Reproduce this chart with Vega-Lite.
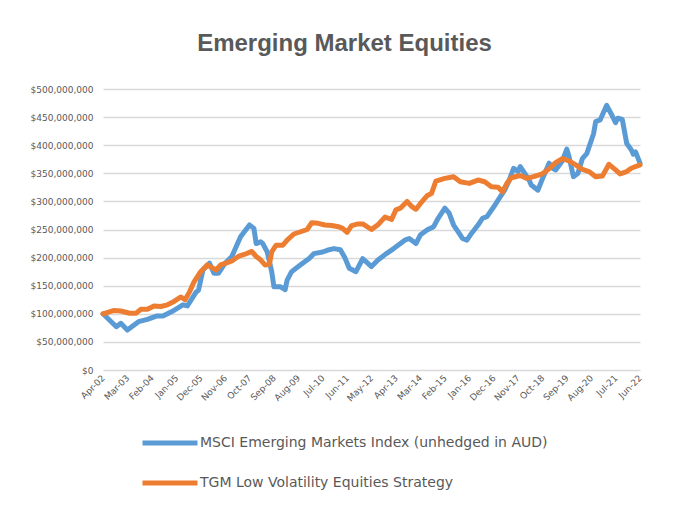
{
  "$schema": "https://vega.github.io/schema/vega-lite/v6.json",
  "autosize": {"type": "none"},
  "padding": {"left": 103, "top": 89, "right": 40, "bottom": 137},
  "width": 537,
  "height": 281,
  "background": "white",
  "title": {
    "text": "Emerging Market Equities",
    "frame": "group",
    "anchor": "middle",
    "dx": -27,
    "offset": 10,
    "baseline": "alphabetic",
    "font": "Liberation Sans",
    "fontSize": 24,
    "fontWeight": "bold",
    "color": "#595959"
  },
  "data": {
    "values": [
      {"series": "MSCI", "date": "2002-04-01", "value": 100},
      {"series": "MSCI", "date": "2002-10-01", "value": 77},
      {"series": "MSCI", "date": "2002-12-01", "value": 83},
      {"series": "MSCI", "date": "2003-03-01", "value": 71},
      {"series": "MSCI", "date": "2003-08-01", "value": 86},
      {"series": "MSCI", "date": "2003-12-01", "value": 90},
      {"series": "MSCI", "date": "2004-04-01", "value": 96},
      {"series": "MSCI", "date": "2004-07-01", "value": 96},
      {"series": "MSCI", "date": "2004-11-01", "value": 104},
      {"series": "MSCI", "date": "2005-04-01", "value": 116},
      {"series": "MSCI", "date": "2005-06-01", "value": 114},
      {"series": "MSCI", "date": "2005-10-01", "value": 139},
      {"series": "MSCI", "date": "2005-11-01", "value": 142},
      {"series": "MSCI", "date": "2006-01-01", "value": 178},
      {"series": "MSCI", "date": "2006-04-01", "value": 190},
      {"series": "MSCI", "date": "2006-06-01", "value": 172},
      {"series": "MSCI", "date": "2006-08-01", "value": 172},
      {"series": "MSCI", "date": "2006-11-01", "value": 190},
      {"series": "MSCI", "date": "2007-02-01", "value": 202},
      {"series": "MSCI", "date": "2007-06-01", "value": 237},
      {"series": "MSCI", "date": "2007-10-01", "value": 258},
      {"series": "MSCI", "date": "2007-12-01", "value": 252},
      {"series": "MSCI", "date": "2008-01-01", "value": 225},
      {"series": "MSCI", "date": "2008-03-01", "value": 228},
      {"series": "MSCI", "date": "2008-04-01", "value": 225},
      {"series": "MSCI", "date": "2008-06-01", "value": 210},
      {"series": "MSCI", "date": "2008-08-01", "value": 175},
      {"series": "MSCI", "date": "2008-09-01", "value": 148},
      {"series": "MSCI", "date": "2008-12-01", "value": 148},
      {"series": "MSCI", "date": "2009-02-01", "value": 143},
      {"series": "MSCI", "date": "2009-03-01", "value": 160},
      {"series": "MSCI", "date": "2009-05-01", "value": 175},
      {"series": "MSCI", "date": "2009-08-01", "value": 184},
      {"series": "MSCI", "date": "2009-11-01", "value": 193},
      {"series": "MSCI", "date": "2010-01-01", "value": 199},
      {"series": "MSCI", "date": "2010-03-01", "value": 207},
      {"series": "MSCI", "date": "2010-07-01", "value": 210},
      {"series": "MSCI", "date": "2010-09-01", "value": 213},
      {"series": "MSCI", "date": "2010-12-01", "value": 216},
      {"series": "MSCI", "date": "2011-03-01", "value": 214},
      {"series": "MSCI", "date": "2011-05-01", "value": 200},
      {"series": "MSCI", "date": "2011-07-01", "value": 181},
      {"series": "MSCI", "date": "2011-10-01", "value": 175},
      {"series": "MSCI", "date": "2012-01-01", "value": 198},
      {"series": "MSCI", "date": "2012-05-01", "value": 184},
      {"series": "MSCI", "date": "2012-08-01", "value": 196},
      {"series": "MSCI", "date": "2012-12-01", "value": 208},
      {"series": "MSCI", "date": "2013-03-01", "value": 216},
      {"series": "MSCI", "date": "2013-08-01", "value": 231},
      {"series": "MSCI", "date": "2013-10-01", "value": 234},
      {"series": "MSCI", "date": "2014-01-01", "value": 225},
      {"series": "MSCI", "date": "2014-03-01", "value": 240},
      {"series": "MSCI", "date": "2014-06-01", "value": 249},
      {"series": "MSCI", "date": "2014-09-01", "value": 255},
      {"series": "MSCI", "date": "2014-11-01", "value": 270},
      {"series": "MSCI", "date": "2015-02-01", "value": 288},
      {"series": "MSCI", "date": "2015-04-01", "value": 279},
      {"series": "MSCI", "date": "2015-06-01", "value": 258},
      {"series": "MSCI", "date": "2015-08-01", "value": 246},
      {"series": "MSCI", "date": "2015-10-01", "value": 234},
      {"series": "MSCI", "date": "2015-12-01", "value": 231},
      {"series": "MSCI", "date": "2016-02-01", "value": 243},
      {"series": "MSCI", "date": "2016-05-01", "value": 258},
      {"series": "MSCI", "date": "2016-07-01", "value": 270},
      {"series": "MSCI", "date": "2016-09-01", "value": 273},
      {"series": "MSCI", "date": "2016-12-01", "value": 290},
      {"series": "MSCI", "date": "2017-03-01", "value": 308},
      {"series": "MSCI", "date": "2017-05-01", "value": 320},
      {"series": "MSCI", "date": "2017-07-01", "value": 337},
      {"series": "MSCI", "date": "2017-09-01", "value": 359},
      {"series": "MSCI", "date": "2017-11-01", "value": 353},
      {"series": "MSCI", "date": "2017-12-01", "value": 362},
      {"series": "MSCI", "date": "2018-02-01", "value": 350},
      {"series": "MSCI", "date": "2018-04-01", "value": 338},
      {"series": "MSCI", "date": "2018-05-01", "value": 329},
      {"series": "MSCI", "date": "2018-08-01", "value": 320},
      {"series": "MSCI", "date": "2018-10-01", "value": 340},
      {"series": "MSCI", "date": "2019-01-01", "value": 368},
      {"series": "MSCI", "date": "2019-03-01", "value": 358},
      {"series": "MSCI", "date": "2019-04-01", "value": 356},
      {"series": "MSCI", "date": "2019-07-01", "value": 372},
      {"series": "MSCI", "date": "2019-09-01", "value": 393},
      {"series": "MSCI", "date": "2019-10-01", "value": 380},
      {"series": "MSCI", "date": "2019-12-01", "value": 344},
      {"series": "MSCI", "date": "2020-02-01", "value": 350},
      {"series": "MSCI", "date": "2020-04-01", "value": 376},
      {"series": "MSCI", "date": "2020-06-01", "value": 385},
      {"series": "MSCI", "date": "2020-09-01", "value": 420},
      {"series": "MSCI", "date": "2020-10-01", "value": 442},
      {"series": "MSCI", "date": "2020-12-01", "value": 445},
      {"series": "MSCI", "date": "2021-03-01", "value": 471},
      {"series": "MSCI", "date": "2021-05-01", "value": 456},
      {"series": "MSCI", "date": "2021-07-01", "value": 440},
      {"series": "MSCI", "date": "2021-08-01", "value": 448},
      {"series": "MSCI", "date": "2021-10-01", "value": 446},
      {"series": "MSCI", "date": "2021-12-01", "value": 403},
      {"series": "MSCI", "date": "2022-02-01", "value": 392},
      {"series": "MSCI", "date": "2022-03-01", "value": 384},
      {"series": "MSCI", "date": "2022-04-01", "value": 388},
      {"series": "MSCI", "date": "2022-06-01", "value": 368},
      {"series": "TGM", "date": "2002-04-01", "value": 100},
      {"series": "TGM", "date": "2002-09-01", "value": 106},
      {"series": "TGM", "date": "2002-12-01", "value": 105},
      {"series": "TGM", "date": "2003-04-01", "value": 101},
      {"series": "TGM", "date": "2003-07-01", "value": 101},
      {"series": "TGM", "date": "2003-09-01", "value": 108},
      {"series": "TGM", "date": "2003-12-01", "value": 108},
      {"series": "TGM", "date": "2004-03-01", "value": 114},
      {"series": "TGM", "date": "2004-06-01", "value": 113},
      {"series": "TGM", "date": "2004-09-01", "value": 116},
      {"series": "TGM", "date": "2004-12-01", "value": 122},
      {"series": "TGM", "date": "2005-03-01", "value": 130},
      {"series": "TGM", "date": "2005-05-01", "value": 125},
      {"series": "TGM", "date": "2005-07-01", "value": 139},
      {"series": "TGM", "date": "2005-09-01", "value": 157},
      {"series": "TGM", "date": "2005-12-01", "value": 175},
      {"series": "TGM", "date": "2006-03-01", "value": 187},
      {"series": "TGM", "date": "2006-06-01", "value": 180},
      {"series": "TGM", "date": "2006-07-01", "value": 178},
      {"series": "TGM", "date": "2006-09-01", "value": 187},
      {"series": "TGM", "date": "2006-12-01", "value": 191},
      {"series": "TGM", "date": "2007-02-01", "value": 194},
      {"series": "TGM", "date": "2007-05-01", "value": 202},
      {"series": "TGM", "date": "2007-08-01", "value": 206},
      {"series": "TGM", "date": "2007-11-01", "value": 211},
      {"series": "TGM", "date": "2008-01-01", "value": 202},
      {"series": "TGM", "date": "2008-03-01", "value": 196},
      {"series": "TGM", "date": "2008-05-01", "value": 187},
      {"series": "TGM", "date": "2008-07-01", "value": 188},
      {"series": "TGM", "date": "2008-08-01", "value": 210},
      {"series": "TGM", "date": "2008-10-01", "value": 222},
      {"series": "TGM", "date": "2009-01-01", "value": 222},
      {"series": "TGM", "date": "2009-03-01", "value": 231},
      {"series": "TGM", "date": "2009-06-01", "value": 242},
      {"series": "TGM", "date": "2009-09-01", "value": 246},
      {"series": "TGM", "date": "2009-12-01", "value": 250},
      {"series": "TGM", "date": "2010-02-01", "value": 262},
      {"series": "TGM", "date": "2010-05-01", "value": 261},
      {"series": "TGM", "date": "2010-08-01", "value": 258},
      {"series": "TGM", "date": "2010-11-01", "value": 257},
      {"series": "TGM", "date": "2011-02-01", "value": 255},
      {"series": "TGM", "date": "2011-04-01", "value": 252},
      {"series": "TGM", "date": "2011-06-01", "value": 245},
      {"series": "TGM", "date": "2011-08-01", "value": 257},
      {"series": "TGM", "date": "2011-11-01", "value": 260},
      {"series": "TGM", "date": "2012-01-01", "value": 260},
      {"series": "TGM", "date": "2012-05-01", "value": 250},
      {"series": "TGM", "date": "2012-08-01", "value": 259},
      {"series": "TGM", "date": "2012-11-01", "value": 272},
      {"series": "TGM", "date": "2013-02-01", "value": 268},
      {"series": "TGM", "date": "2013-04-01", "value": 285},
      {"series": "TGM", "date": "2013-06-01", "value": 288},
      {"series": "TGM", "date": "2013-09-01", "value": 300},
      {"series": "TGM", "date": "2013-11-01", "value": 291},
      {"series": "TGM", "date": "2014-01-01", "value": 286},
      {"series": "TGM", "date": "2014-03-01", "value": 296},
      {"series": "TGM", "date": "2014-06-01", "value": 310},
      {"series": "TGM", "date": "2014-08-01", "value": 314},
      {"series": "TGM", "date": "2014-10-01", "value": 336},
      {"series": "TGM", "date": "2015-02-01", "value": 341},
      {"series": "TGM", "date": "2015-06-01", "value": 344},
      {"series": "TGM", "date": "2015-09-01", "value": 335},
      {"series": "TGM", "date": "2016-01-01", "value": 332},
      {"series": "TGM", "date": "2016-05-01", "value": 338},
      {"series": "TGM", "date": "2016-08-01", "value": 335},
      {"series": "TGM", "date": "2016-11-01", "value": 326},
      {"series": "TGM", "date": "2017-02-01", "value": 325},
      {"series": "TGM", "date": "2017-04-01", "value": 317},
      {"series": "TGM", "date": "2017-06-01", "value": 332},
      {"series": "TGM", "date": "2017-08-01", "value": 342},
      {"series": "TGM", "date": "2017-12-01", "value": 346},
      {"series": "TGM", "date": "2018-03-01", "value": 341},
      {"series": "TGM", "date": "2018-06-01", "value": 344},
      {"series": "TGM", "date": "2018-10-01", "value": 349},
      {"series": "TGM", "date": "2019-01-01", "value": 358},
      {"series": "TGM", "date": "2019-04-01", "value": 369},
      {"series": "TGM", "date": "2019-07-01", "value": 376},
      {"series": "TGM", "date": "2019-10-01", "value": 372},
      {"series": "TGM", "date": "2020-01-01", "value": 365},
      {"series": "TGM", "date": "2020-04-01", "value": 357},
      {"series": "TGM", "date": "2020-07-01", "value": 353},
      {"series": "TGM", "date": "2020-10-01", "value": 344},
      {"series": "TGM", "date": "2021-01-01", "value": 345},
      {"series": "TGM", "date": "2021-04-01", "value": 366},
      {"series": "TGM", "date": "2021-07-01", "value": 356},
      {"series": "TGM", "date": "2021-09-01", "value": 349},
      {"series": "TGM", "date": "2021-12-01", "value": 353},
      {"series": "TGM", "date": "2022-02-01", "value": 359},
      {"series": "TGM", "date": "2022-06-01", "value": 365}
    ]
  },
  "mark": {"type": "line", "strokeWidth": 5, "strokeJoin": "round", "strokeCap": "round"},
  "encoding": {
    "x": {
      "field": "date",
      "type": "temporal",
      "scale": {"domain": [{"year": 2002, "month": 4, "date": 1, "utc": true}, {"year": 2022, "month": 6, "date": 1, "utc": true}]},
      "axis": {
        "title": null,
        "grid": false,
        "domain": false,
        "ticks": false,
        "values": [
          {"year": 2002, "month": 4, "date": 1, "utc": true},
          {"year": 2003, "month": 3, "date": 1, "utc": true},
          {"year": 2004, "month": 2, "date": 1, "utc": true},
          {"year": 2005, "month": 1, "date": 1, "utc": true},
          {"year": 2005, "month": 12, "date": 1, "utc": true},
          {"year": 2006, "month": 11, "date": 1, "utc": true},
          {"year": 2007, "month": 10, "date": 1, "utc": true},
          {"year": 2008, "month": 9, "date": 1, "utc": true},
          {"year": 2009, "month": 8, "date": 1, "utc": true},
          {"year": 2010, "month": 7, "date": 1, "utc": true},
          {"year": 2011, "month": 6, "date": 1, "utc": true},
          {"year": 2012, "month": 5, "date": 1, "utc": true},
          {"year": 2013, "month": 4, "date": 1, "utc": true},
          {"year": 2014, "month": 3, "date": 1, "utc": true},
          {"year": 2015, "month": 2, "date": 1, "utc": true},
          {"year": 2016, "month": 1, "date": 1, "utc": true},
          {"year": 2016, "month": 12, "date": 1, "utc": true},
          {"year": 2017, "month": 11, "date": 1, "utc": true},
          {"year": 2018, "month": 10, "date": 1, "utc": true},
          {"year": 2019, "month": 9, "date": 1, "utc": true},
          {"year": 2020, "month": 8, "date": 1, "utc": true},
          {"year": 2021, "month": 7, "date": 1, "utc": true},
          {"year": 2022, "month": 6, "date": 1, "utc": true}
        ],
        "labelExpr": "utcFormat(datum.value, '%b-%y')",
        "labelAngle": -45,
        "labelAlign": "right",
        "labelBaseline": "middle",
        "labelPadding": 6,
        "labelFont": "DejaVu Sans",
        "labelFontSize": 9,
        "labelColor": "#595959",
        "labelOverlap": false,
        "labelFlush": false
      }
    },
    "y": {
      "field": "value",
      "type": "quantitative",
      "scale": {"domain": [0, 500], "nice": false},
      "axis": {
        "title": null,
        "values": [0, 50, 100, 150, 200, 250, 300, 350, 400, 450, 500],
        "labelExpr": "'$' + format(datum.value * 1000000, ',')",
        "domain": false,
        "ticks": false,
        "grid": true,
        "gridColor": "#d9d9d9",
        "gridWidth": 1.5,
        "labelPadding": 10,
        "labelFont": "DejaVu Sans",
        "labelFontSize": 9,
        "labelColor": "#595959"
      }
    },
    "color": {
      "field": "series",
      "type": "nominal",
      "scale": {"domain": ["MSCI", "TGM"], "range": ["#5b9bd5", "#ed7d31"]},
      "legend": {
        "title": null,
        "orient": "none",
        "legendX": 37,
        "legendY": 324,
        "direction": "vertical",
        "symbolType": "stroke",
        "symbolSize": 3025,
        "symbolStrokeWidth": 5,
        "rowPadding": -15,
        "labelOffset": 0,
        "labelFont": "DejaVu Sans",
        "labelFontSize": 14,
        "labelColor": "#595959",
        "labelLimit": 500,
        "labelExpr": "datum.label == 'MSCI' ? 'MSCI Emerging Markets Index (unhedged in AUD)' : 'TGM Low Volatility Equities Strategy'"
      }
    }
  },
  "config": {
    "view": {"stroke": null}
  }
}
